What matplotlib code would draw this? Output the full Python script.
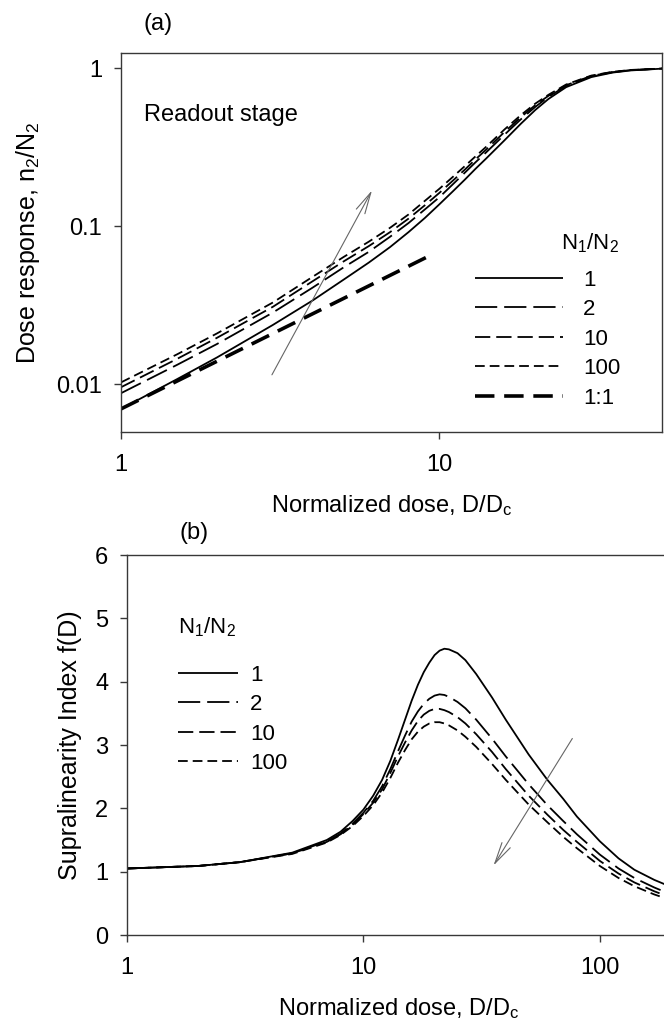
import numpy as np
import matplotlib
matplotlib.use("Agg")
import matplotlib.pyplot as plt

plt.rcParams["font.family"] = ["Liberation Sans", "DejaVu Sans"]
plt.rcParams["mathtext.default"] = "regular"
plt.rcParams["lines.scale_dashes"] = False

# ---- panel (a): dose response ----
dose_a = [1, 1.5, 2, 3, 4, 5, 6, 7, 8, 9, 10, 11, 12, 13, 14, 16, 18, 20, 22, 25,
          30, 35, 40, 50]
resp_1 = [0.0070, 0.0108, 0.0148, 0.0238, 0.034, 0.046, 0.059, 0.074, 0.092, 0.113,
          0.138, 0.166, 0.197, 0.232, 0.268, 0.350, 0.445, 0.545, 0.640, 0.760,
          0.880, 0.940, 0.970, 0.995]
resp_2 = [0.0088, 0.0133, 0.0180, 0.0285, 0.041, 0.055, 0.069, 0.086, 0.105, 0.128,
          0.153, 0.184, 0.218, 0.255, 0.293, 0.380, 0.475, 0.570, 0.660, 0.775,
          0.890, 0.945, 0.973, 0.996]
resp_10 = [0.0096, 0.0145, 0.0197, 0.0310, 0.045, 0.060, 0.075, 0.092, 0.112, 0.136,
           0.163, 0.194, 0.228, 0.266, 0.305, 0.395, 0.490, 0.585, 0.670, 0.782,
           0.895, 0.948, 0.975, 0.997]
resp_100 = [0.0103, 0.0155, 0.0210, 0.0330, 0.048, 0.064, 0.080, 0.098, 0.119, 0.145,
            0.173, 0.205, 0.240, 0.278, 0.318, 0.410, 0.505, 0.598, 0.680, 0.790,
            0.900, 0.950, 0.977, 0.997]
lin_dose = [1, 9.5]
lin_resp = [0.007, 0.0665]

# ---- panel (b): supralinearity index ----
dose_b = [1, 2, 3, 5, 7, 8, 9, 10, 11, 12, 13, 14, 15, 16, 17, 18, 19, 20, 21, 22, 23,
          25, 27, 30, 35, 40, 50, 60, 70, 80, 100, 120, 140, 170, 200]
f_1 = [1.05, 1.09, 1.15, 1.30, 1.50, 1.63, 1.80, 1.98, 2.20, 2.45, 2.75, 3.08, 3.40,
       3.70, 3.95, 4.15, 4.30, 4.42, 4.49, 4.52, 4.51, 4.45, 4.34, 4.12, 3.75, 3.40,
       2.85, 2.45, 2.15, 1.87, 1.48, 1.21, 1.03, 0.87, 0.76]
f_2 = [1.05, 1.09, 1.15, 1.29, 1.48, 1.60, 1.76, 1.93, 2.12, 2.35, 2.62, 2.90, 3.15,
       3.37, 3.53, 3.65, 3.73, 3.78, 3.80, 3.79, 3.76, 3.68, 3.58, 3.40, 3.10, 2.82,
       2.38, 2.05, 1.80, 1.59, 1.27, 1.05, 0.90, 0.75, 0.64]
f_10 = [1.05, 1.09, 1.15, 1.29, 1.47, 1.59, 1.74, 1.91, 2.09, 2.30, 2.56, 2.82, 3.04,
        3.23, 3.38, 3.48, 3.54, 3.57, 3.57, 3.55, 3.52, 3.44, 3.34, 3.17, 2.89, 2.62,
        2.20, 1.90, 1.66, 1.47, 1.17, 0.97, 0.83, 0.69, 0.59]
f_100 = [1.05, 1.09, 1.15, 1.28, 1.46, 1.58, 1.72, 1.88, 2.05, 2.25, 2.48, 2.72, 2.92,
         3.09, 3.21, 3.29, 3.34, 3.36, 3.36, 3.34, 3.31, 3.23, 3.13, 2.97, 2.70, 2.45,
         2.06, 1.78, 1.55, 1.37, 1.09, 0.90, 0.77, 0.64, 0.55]

labels = ["1", "2", "10", "100"]
dash_styles = [(0, ()), (0, (16, 5)), (0, (11, 4.3)), (0, (7, 3.6))]

FS = 17
FS_TICK = 17
FS_YLAB = 18
FS_LEG = 16
spine_c = "#383838"

fig = plt.figure(figsize=(6.64, 10.21), dpi=100)


def style_axes(ax):
    for sp in ax.spines.values():
        sp.set_color(spine_c)
        sp.set_linewidth(1.0)
    ax.tick_params(which="major", direction="out", length=5, width=1.0,
                   color=spine_c, labelsize=FS_TICK)
    ax.tick_params(which="minor", length=0)
    ax.tick_params(axis="x", pad=10.5)
    ax.tick_params(axis="y", pad=8.5)


# ---------------- (a) ----------------
ax1 = fig.add_axes([121 / 664, 1 - 432 / 1021, 541 / 664, 379 / 1021])
for ys, lab, ds in zip([resp_1, resp_2, resp_10, resp_100], labels, dash_styles):
    ax1.plot(dose_a, ys, color="black", lw=1.3, linestyle=ds, label=lab)
ax1.plot(lin_dose, lin_resp, color="black", lw=2.6, linestyle=(0, (14, 7)), label="1:1")
ax1.set_xscale("log")
ax1.set_yscale("log")
ax1.set_xlim(1, 50)
ax1.set_ylim(0.005, 1.25)
ax1.set_xticks([1, 10])
ax1.set_xticklabels(["1", "10"])
ax1.set_yticks([0.01, 0.1, 1])
ax1.set_yticklabels(["0.01", "0.1", "1"])
style_axes(ax1)
ax1.set_xlabel("Normalized dose, D/D$_c$", fontsize=FS)
ax1.xaxis.set_label_coords(0.5, -0.161)
ax1.set_ylabel("Dose response, n$_2$/N$_2$", fontsize=FS_YLAB)
ax1.yaxis.set_label_coords(-0.146, 0.5)
ax1.text(0.043, 0.836, "Readout stage", transform=ax1.transAxes,
         fontsize=FS, va="center", ha="left")
ax1.annotate("", xy=(6.2, 0.175), xytext=(2.95, 0.0111),
             arrowprops=dict(arrowstyle="->,head_length=1.1,head_width=0.25",
                             color="#666666", lw=0.8, mutation_scale=14))
ax1.text(0.92, 0.499, "N$_1$/N$_2$", transform=ax1.transAxes, fontsize=FS_LEG,
         ha="right", va="center")
ax1.legend(loc="upper left", bbox_to_anchor=(0.654, 0.428), frameon=False,
           fontsize=FS_LEG, handlelength=3.96, handletextpad=0.9, labelspacing=0.38,
           borderpad=0, borderaxespad=0)
ax1.text(37 / 541, (432 - 24) / 379, "(a)", transform=ax1.transAxes, fontsize=FS,
         ha="center", va="center")

# ---------------- (b) ----------------
ax2 = fig.add_axes([127 / 664, 1 - 935 / 1021, 544 / 664, 380 / 1021])
for ys, lab, ds in zip([f_1, f_2, f_10, f_100], labels, dash_styles):
    ax2.plot(dose_b, ys, color="black", lw=1.3, linestyle=ds, label=lab)
ax2.set_xscale("log")
ax2.set_xlim(1, 200)
ax2.set_ylim(0, 6)
ax2.set_xticks([1, 10, 100])
ax2.set_xticklabels(["1", "10", "100"])
ax2.set_yticks(range(0, 7))
style_axes(ax2)
ax2.set_xlabel("Normalized dose, D/D$_c$", fontsize=FS)
ax2.xaxis.set_label_coords(0.5, -0.16)
ax2.set_ylabel("Supralinearity Index f(D)", fontsize=FS_YLAB)
ax2.yaxis.set_label_coords(-0.083, 0.5)
ax2.annotate("", xy=(35, 1.06), xytext=(77.6, 3.14),
             arrowprops=dict(arrowstyle="->,head_length=1.1,head_width=0.25",
                             color="#666666", lw=0.8, mutation_scale=14))
ax2.text(0.094, 0.81, "N$_1$/N$_2$", transform=ax2.transAxes, fontsize=FS_LEG,
         ha="left", va="center")
ax2.legend(loc="upper left", bbox_to_anchor=(0.094, 0.711), frameon=False,
           fontsize=FS_LEG, handlelength=2.7, handletextpad=0.55, labelspacing=0.38,
           borderpad=0, borderaxespad=0)
ax2.text((194 - 127) / 544, (935 - 533) / 380, "(b)", transform=ax2.transAxes,
         fontsize=FS, ha="center", va="center")

fig.savefig("out.png", dpi=100)
